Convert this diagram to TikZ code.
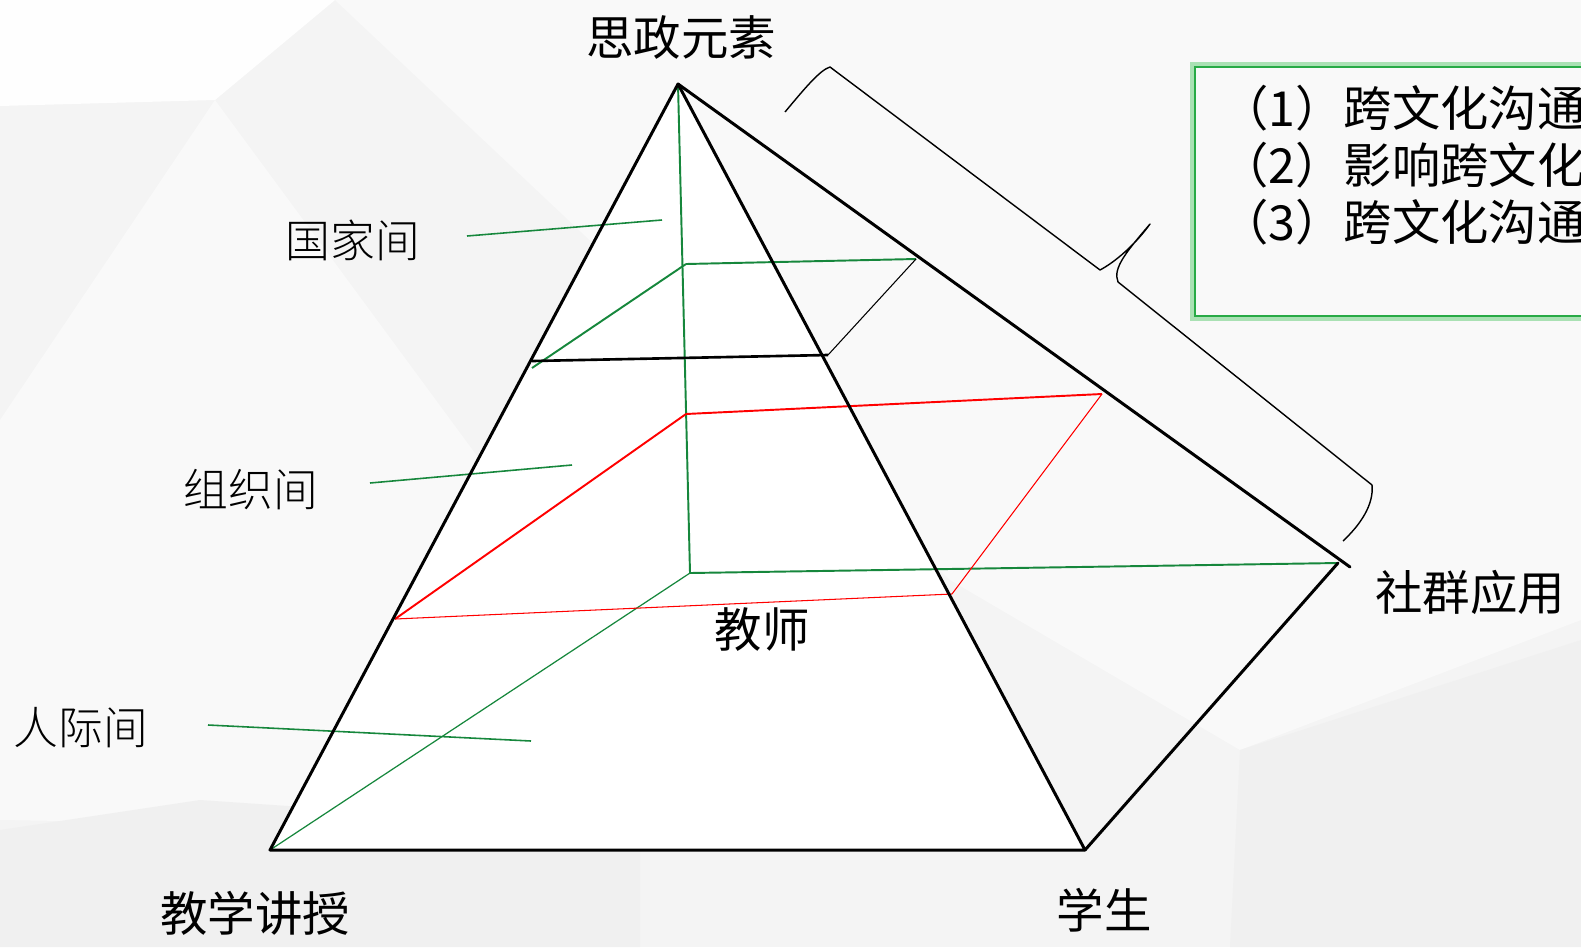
\documentclass[tikz,border=0pt]{standalone}
\usepackage{fontspec}
\newfontfamily\cjk{Noto Sans CJK SC}
\newfontfamily\cjkl{Noto Sans CJK SC}[UprightFont=* Light]
\definecolor{pgreen}{RGB}{22,135,60}
\definecolor{bg}{RGB}{244,244,244}
\definecolor{bglight}{RGB}{249,249,249}
\definecolor{bgwhite}{RGB}{254,254,254}
\definecolor{bgdark}{RGB}{240,240,240}
\definecolor{boxgreen}{RGB}{40,170,70}
\definecolor{glow}{RGB}{170,225,180}
\begin{document}
\begin{tikzpicture}[x=0.02cm,y=-0.02cm,
  edge/.style={line width=1.7pt,black,line cap=round,line join=round},
  hid/.style={line width=1.1pt,pgreen},
  hidthin/.style={line width=0.7pt,pgreen},
  lay/.style={line width=1.1pt,red},
  laythin/.style={line width=0.6pt,red},
  lead/.style={line width=0.9pt,pgreen},
  bracestyle/.style={line width=0.8pt,black,line join=round},
  lbl/.style={font=\cjk\fontsize{27pt}{30pt}\selectfont,inner sep=0pt},
  lbll/.style={font=\cjkl\fontsize{25.5pt}{30pt}\selectfont,inner sep=0pt},
  boxtxt/.style={font=\cjk\fontsize{27.5pt}{32pt}\selectfont,inner sep=0pt,anchor=west}
]
\useasboundingbox (0,0) rectangle (1581,947);
\clip (0,0) rectangle (1581,947);
% background
\fill[bg] (0,0) rectangle (1581,947);
\fill[bgwhite] (0,0) -- (335,0) -- (215,100) -- (0,106) -- cycle;
\fill[bglight] (335,0) -- (1581,0) -- (1581,620) -- (1240,750) -- (950,580) -- cycle;
\fill[bglight] (0,420) -- (215,100) -- (480,460) -- (640,830) -- (0,820) -- cycle;
\fill[bgdark] (1240,750) -- (1581,640) -- (1581,947) -- (1230,947) -- cycle;
\fill[bgdark] (0,830) -- (200,800) -- (640,830) -- (640,947) -- (0,947) -- cycle;
% box
\draw[line width=6pt,glow] (1195,67) rectangle (1640,316);
\fill[bglight] (1195,67) rectangle (1640,316);
\draw[line width=1.4pt,boxgreen] (1195,67) rectangle (1640,316);
\node[boxtxt] (t1) at (1220,108) {（1）跨文化沟通};
\node[boxtxt] (t2) at (1220,165) {（2）影响跨文化};
\node[boxtxt] (t3) at (1220,222) {（3）跨文化沟通};
% coordinates
\coordinate (A) at (678,84);
\coordinate (BL) at (270,850);
\coordinate (BR) at (1085,850);
\coordinate (BK) at (1338,563);
\coordinate (BKo) at (1350,567);
\coordinate (H) at (690,573);
\coordinate (G1) at (686,264);
\coordinate (G2) at (916,259);
\coordinate (G3) at (532,368);
\coordinate (K1) at (532,361);
\coordinate (K2) at (828,355);
\coordinate (R1) at (686,414);
\coordinate (R2) at (1102,394);
\coordinate (R3) at (395,619);
\coordinate (R4) at (952,594);
\coordinate (L1a) at (467,236);
\coordinate (L1b) at (662,220);
\coordinate (L2a) at (370,483);
\coordinate (L2b) at (572,465);
\coordinate (L3a) at (208,725);
\coordinate (L3b) at (531,741);
% front face
\fill[white] (A) -- (BL) -- (BR) -- cycle;
% hidden edges
\draw[hid] (A) -- (H);
\draw[hid] (H) -- (BK);
\draw[hidthin] (H) -- (BL);
\draw[hid] (G1) -- (G2);
\draw[hid] (G1) -- (G3);
% layers
\draw[lay] (R1) -- (R2);
\draw[lay] (R1) -- (R3);
\draw[laythin] (R3) -- (R4);
\draw[laythin] (R4) -- (R2);
% leaders
\draw[lead] (L1a) -- (L1b);
\draw[lead] (L2a) -- (L2b);
\draw[lead] (L3a) -- (L3b);
% black edges
\draw[edge] (A) -- (BL) -- (BR) -- cycle;
\draw[edge] (A) -- (BKo);
\draw[edge] (BR) -- (BK);
\draw[line width=1.5pt] (K1) -- (K2);
\draw[line width=0.6pt] (K2) -- (G2);
% brace
\coordinate (b0) at (785,112);
\coordinate (b1) at (830,67);
\coordinate (b2) at (1100,270);
\coordinate (btip) at (1150,224);
\coordinate (b3) at (1118,282);
\coordinate (b4) at (1372,485);
\coordinate (b5) at (1343,541);
\draw[bracestyle] (b0) .. controls (805,88) and (820,70) .. (b1) -- (b2)
  .. controls (1115,262) and (1135,245) .. (btip)
  .. controls (1128,250) and (1112,268) .. (b3) -- (b4)
  .. controls (1374,505) and (1360,525) .. (b5);
% labels
\node[lbl] (top) at (681,37) {思政元素};
\node[lbll] (n1) at (353,240) {国家间};
\node[lbll] (n2) at (251,490) {组织间};
\node[lbll] (n3) at (81,728) {人际间};
\node[lbl] (teach) at (762,630) {教师};
\node[lbl] (lect) at (255,913) {教学讲授};
\node[lbl] (stu) at (1104,910) {学生};
\node[lbl] (comm) at (1470,592) {社群应用};
\end{tikzpicture}
\end{document}
